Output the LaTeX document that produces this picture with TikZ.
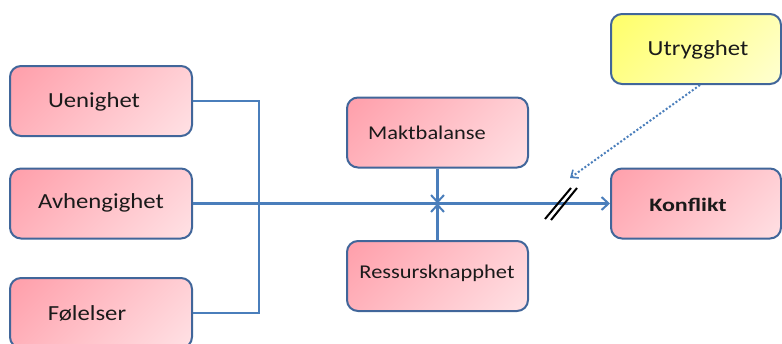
\documentclass[tikz,border=0pt]{standalone}
\usepackage{fontspec}
\setmainfont{Carlito}
\usetikzlibrary{arrows.meta}
\definecolor{boxline}{HTML}{41669A}
\definecolor{wire}{HTML}{4A7EBB}
\definecolor{pinkdark}{HTML}{FF9CA8}
\definecolor{pinklight}{HTML}{FFE4E7}
\definecolor{yellowdark}{HTML}{FFFF62}
\definecolor{yellowlight}{HTML}{FFFFD8}
\definecolor{ink}{HTML}{1A1A1A}
\tikzset{
  % diagonal gradient: darker at top left, lighter at bottom right
  diagfill/.style 2 args={path picture={
    \shade[top color=#1, bottom color=#2, shading angle=45]
      ([shift={(-95pt,95pt)}]path picture bounding box.center)
      rectangle ([shift={(95pt,-95pt)}]path picture bounding box.center);}},
  factor/.style={draw=boxline, line width=2pt, rounded corners=11pt,
    diagfill={pinkdark}{pinklight},
    minimum width=#1, minimum height=70pt, inner sep=0pt},
  factor/.default=182pt,
  worry/.style={draw=boxline, line width=2pt, rounded corners=11pt,
    diagfill={yellowdark}{yellowlight},
    minimum width=170pt, minimum height=70pt, inner sep=0pt},
  word/.style={text=ink, inner sep=0pt, font=\fontsize{21.5}{24}\selectfont, xscale=1.15},
  smallword/.style={word, font=\fontsize{19.5}{22}\selectfont},
  wire/.style={draw=wire, line width=2.2pt},
  barb/.style={-{Straight Barb[length=7pt,width=13pt,line width=2pt]}},
  hint/.style={draw=wire, line width=2pt, dotted, -{Straight Barb[length=6pt,width=10pt,line width=1.6pt]}},
  cut/.style={draw=black, line width=2pt}
}
\begin{document}
\begin{tikzpicture}[x=1pt, y=-1pt]
\useasboundingbox (0,0) rectangle (782,343);
\clip (0,0) rectangle (782,343);

% causes on the left
\node[factor] (u) at (101,101) {};
\node[factor] (a) at (101,203.5) {};
\node[factor] (f) at (101,313) {};
\node[word] (ut) at (94,102) {Uenighet};
\node[word] (at) at (101,203) {Avhengighet};
\node[word] (ft) at (87,313) {Følelser};

% moderating factors
\node[factor=181pt] (m) at (437.5,132.5) {};
\node[factor=181pt] (r) at (437.5,276) {};
\node[smallword] (mt) at (427,133) {Maktbalanse};
\node[smallword] (rt) at (437,273) {Ressursknapphet};

% insecurity and conflict
\node[worry] (y) at (696,49) {};
\node[factor=170pt] (k) at (696,203.5) {};
\node[word] (yt) at (698,50) {Utrygghet};
\node[word, font=\fontsize{19}{22}\selectfont\bfseries, xscale=1.1] (kt) at (688,205) {Konflikt};

% bracket joining the three causes
\coordinate (j) at (259,203.5);
\draw[wire] (u.east) -| (j) |- (f.east);
\draw[wire, barb] (a.east) -- (k.west);

% power balance and scarcity acting on the main line
\coordinate (x) at (m.south |- a.east);
\draw[wire, barb] (m.south) -- (x);
\draw[wire, barb] (r.north) -- (x);

% dotted influence of insecurity
\coordinate (d0) at ([xshift=4pt]y.south);
\coordinate (d1) at (570,178);
\draw[hint] (d0) -- (d1);

% break marks on the main line
\coordinate (s1) at (545,219);
\coordinate (s2) at (571,188);
\coordinate (s3) at (551,220);
\coordinate (s4) at (577,188);
\draw[cut] (s1) -- (s2);
\draw[cut] (s3) -- (s4);
\end{tikzpicture}
\end{document}
